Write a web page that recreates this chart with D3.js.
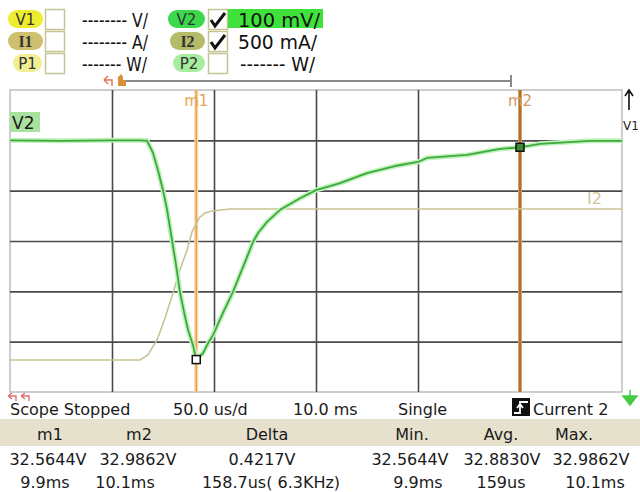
<!DOCTYPE html>
<html><head><meta charset="utf-8">
<script src="https://cdnjs.cloudflare.com/ajax/libs/d3/7.8.5/d3.min.js"></script>
<style>html,body{margin:0;padding:0;background:#fff;}svg{display:block;font-family:"DejaVu Sans",sans-serif;}</style>
</head><body><svg id="c" width="640" height="492"></svg>
<script>
// ---- data ----
const v2TimeUs = [0,25,50,63.7,67.2,70.1,72.5,75.0,77.0,79.4,81.4,83.3,85.3,87.3,89.7,91.3,94.6,97.1,99.5,104.4,109.3,115.2,119.1,121.6,126.0,132.4,142.2,150.0,161.8,175.0,188.7,200,204.4,224.0,240.2,250,259.8,284.3,300];
const v2Volts  = [33.000,32.999,33.000,33.000,32.999,32.975,32.941,32.901,32.862,32.802,32.752,32.699,32.659,32.623,32.593,32.5644,32.577,32.597,32.613,32.657,32.699,32.758,32.798,32.816,32.838,32.862,32.885,32.901,32.915,32.935,32.949,32.957,32.965,32.971,32.983,32.9862,32.993,32.999,32.999];
const i2TimeUs = [0,63.7,67.6,72.1,76.0,79.9,83.3,86.8,89.2,91.7,93.1,95.6,99.0,107.8,300];
const i2Amps   = [0.018,0.018,0.068,0.217,0.435,0.683,0.912,1.111,1.289,1.389,1.438,1.478,1.498,1.518,1.518];
const markerTimesUs = [91.3,250];
const markerNames = ["m1","m2"];
const markerVolts = [32.5644,32.9862];
const timeDomainUs = [0,300];
const timeDivUs = [50,100,150,200,250];
const v2Domain = [32.5,33.1];
const v2Divs = [32.6,32.7,32.8,32.9,33.0];
const i2Domain = [-0.3,2.7];
const legendRows = [
  {left:"V1", leftText:"-------- V/", right:"V2", rightText:"100 mV/", rightChecked:true},
  {left:"I1", leftText:"-------- A/", right:"I2", rightText:"500 mA/", rightChecked:true},
  {left:"P1", leftText:"------- W/", right:"P2", rightText:"------- W/", rightChecked:false}
];
const statusTexts = ["Scope Stopped","50.0 us/d","10.0 ms","Single","Current 2"];
const tableHeaders = ["m1","m2","Delta","Min.","Avg.","Max."];
const tableRow1 = ["32.5644V","32.9862V","0.4217V","32.5644V","32.8830V","32.9862V"];
const tableRow2 = ["9.9ms","10.1ms","158.7us( 6.3KHz)","9.9ms","159us","10.1ms"];

// ---- layout ----
const svg = d3.select("#c");
const P = {l:10, r:622, t:90, b:392};
const x = d3.scaleLinear().domain(timeDomainUs).range([P.l,P.r]);
const yV = d3.scaleLinear().domain(v2Domain).range([P.b,P.t]);
const yI = d3.scaleLinear().domain(i2Domain).range([P.b,P.t]);

// legend
const pillColL = ["#eeec2e","#cfc070","#f2ee96"];
const pillColR = ["#3ad84a","#b4bc6a","#a6ee9e"];
const rowY = [10,32,54];
legendRows.forEach((r,i)=>{
  const y0 = rowY[i];
  const g = svg.append("g");
  const pill = (px,w,col,label)=>{
    g.append("rect").attr("x",px).attr("y",y0).attr("width",w).attr("height",18).attr("rx",9).attr("fill",col);
    const serif = label[0]==="I";
    g.append("text").attr("x",px+w/2).attr("y",y0+15).attr("text-anchor","middle")
      .attr("font-size",serif?16:15).attr("font-weight",serif?"bold":"normal")
      .attr("font-family",serif?"'Liberation Serif',serif":"'DejaVu Sans',sans-serif")
      .attr("fill","#333").text(label);
  };
  pill(i===2?13:8, i===2?29:35, pillColL[i], r.left);
  pill(i===0?168:(i===1?170:173), i===0?37:(i===1?35:32), pillColR[i], r.right);
  // checkboxes
  g.append("rect").attr("x",45.5).attr("y",y0-0.5).attr("width",19).attr("height",20).attr("fill","#fff").attr("stroke","#c4c494").attr("stroke-width",1.5);
  g.append("rect").attr("x",208.5).attr("y",y0-0.5).attr("width",19).attr("height",20).attr("fill","#fff").attr("stroke","#c4c494").attr("stroke-width",1.5);
  if(r.rightChecked){
    g.append("path").attr("d",`M211,${y0+10} L215,${y0+16} L225,${y0+3}`).attr("fill","none").attr("stroke","#111").attr("stroke-width",3);
  }
  if(i===0){
    g.append("rect").attr("x",228).attr("y",y0-1).attr("width",95).attr("height",19).attr("fill","#3ee23a");
  }
  g.append("text").attr("x",82).attr("y",y0+17).attr("font-size",19).attr("textLength",i===2?65:66).attr("lengthAdjust","spacingAndGlyphs").attr("fill","#111").text(r.leftText);
  g.append("text").attr("x",i===2?240:238).attr("y",y0+17).attr("font-size",19).attr("textLength",i===2?75:(i===0?82:79)).attr("lengthAdjust","spacingAndGlyphs").attr("fill","#111").text(r.rightText);
});

// timebase bar
svg.append("line").attr("x1",125).attr("x2",511).attr("y1",81).attr("y2",81).attr("stroke","#8a8a8a").attr("stroke-width",2);
svg.append("line").attr("x1",511).attr("x2",511).attr("y1",75).attr("y2",87).attr("stroke","#8a8a8a").attr("stroke-width",2);
svg.append("path").attr("d","M104,80 L108,76 M104,80 L108,84 M104,80 L112,80 L112,86").attr("fill","none").attr("stroke","#e07a50").attr("stroke-width",1.5);
svg.append("path").attr("d","M118,86 L118,77 L121,74 L123,77 L123,80 L126,80 L126,86 Z").attr("fill","#d8903c");

// plot area
svg.append("rect").attr("x",P.l).attr("y",P.t).attr("width",P.r-P.l).attr("height",P.b-P.t).attr("fill","#fff").attr("stroke","#bdbdbd").attr("stroke-width",1.5);
const gx = svg.append("g").attr("transform",`translate(0,${P.b})`)
  .call(d3.axisBottom(x).tickValues(timeDivUs).tickSize(-(P.b-P.t)).tickFormat(""));
const gy = svg.append("g").attr("transform",`translate(${P.l},0)`)
  .call(d3.axisLeft(yV).tickValues(v2Divs).tickSize(-(P.r-P.l)).tickFormat(""));
[gx,gy].forEach(g=>{g.select(".domain").remove(); g.selectAll("line").attr("stroke","#4a4a4a").attr("stroke-width",1.6);});

// V2 label
svg.append("rect").attr("x",10).attr("y",112).attr("width",30).attr("height",20).attr("fill","#a8e29e");
svg.append("text").attr("x",12).attr("y",129).attr("font-size",17).attr("fill","#1a1a1a").text("V2");

// marker lines
const mCol = ["#eaa24a","#b0702e"];
const mHalo = ["#f8d8a8","#d8b080"];
markerTimesUs.forEach((t,i)=>{
  svg.append("line").attr("x1",x(t)).attr("x2",x(t)).attr("y1",P.t).attr("y2",P.b).attr("stroke",mHalo[i]).attr("stroke-width",4);
  svg.append("line").attr("x1",x(t)).attr("x2",x(t)).attr("y1",P.t).attr("y2",P.b).attr("stroke",mCol[i]).attr("stroke-width",i?2.5:1.5);
  svg.append("text").attr("x",x(t)).attr("y",106).attr("text-anchor","middle").attr("font-size",15).attr("fill",i?"#d49a5a":"#e8a650").text(markerNames[i]);
});

// I2 trace
const lineI = d3.line().x((d,i)=>x(i2TimeUs[i])).y(d=>yI(d));
svg.append("path").attr("d",lineI(i2Amps)).attr("fill","none").attr("stroke","#c9c394").attr("stroke-width",1.6);
svg.append("text").attr("x",587).attr("y",204).attr("font-size",16).attr("fill","#cfc79a").text("I2");

// V2 trace
const lineV = d3.line().x((d,i)=>x(v2TimeUs[i])).y(d=>yV(d));
svg.append("path").attr("d",lineV(v2Volts)).attr("fill","none").attr("stroke","#c2f0bc").attr("stroke-width",5).attr("stroke-linejoin","round");
svg.append("path").attr("d",lineV(v2Volts)).attr("fill","none").attr("stroke","#3aaa3a").attr("stroke-width",1.8).attr("stroke-linejoin","round");

// marker squares
markerTimesUs.forEach((t,i)=>{
  svg.append("rect").attr("x",x(t)-4).attr("y",yV(markerVolts[i])-4).attr("width",8).attr("height",8)
    .attr("fill",i?"#3a8a3a":"#fff").attr("stroke","#111").attr("stroke-width",1.5);
});

// right side arrow & label
svg.append("path").attr("d","M629,110 L629,91 M625,96 L629,90 L633,96").attr("fill","none").attr("stroke","#111").attr("stroke-width",1.6);
svg.append("text").attr("x",623).attr("y",130).attr("font-size",12).attr("fill","#222").text("V1");

// bottom arrows
svg.append("path").attr("d","M8,396 L12,393 M8,396 L12,399 M8,396 L16,396 L16,401 M21,396 L25,393 M21,396 L25,399 M21,396 L29,396 L29,401").attr("fill","none").attr("stroke","#e07070").attr("stroke-width",1.4);
svg.append("path").attr("d","M630,390 L630,397 M623,396 L637,396 L630,405 Z").attr("fill","#44cc44").attr("stroke","#44cc44").attr("stroke-width",1.5);

// status row
const statusX = [10,173,293,398,533];
statusTexts.forEach((s,i)=>{
  svg.append("text").attr("x",statusX[i]).attr("y",415).attr("font-size",16).attr("fill","#1a1a1a").text(s);
});
// trigger icon
svg.append("rect").attr("x",512).attr("y",398).attr("width",18).attr("height",18).attr("fill","#111");
svg.append("path").attr("d","M514,413 L520,413 L520,402 L528,402 M517,408 L520,404 L523,408").attr("fill","none").attr("stroke","#fff").attr("stroke-width",1.8);

// table
svg.append("rect").attr("x",0).attr("y",419).attr("width",640).attr("height",27).attr("fill","#e6e1cc");
const hdrC=[50,139,267,412,501,574];
const r1C=[48,138,262,410,502,591];
const r2C=[45,125,271,418,501,595];
const rowDraw=(arr,cs,yb)=>arr.forEach((s,i)=>{
  svg.append("text").attr("x",cs[i]).attr("y",yb).attr("text-anchor","middle").attr("font-size",16).attr("fill","#1a1a1a").text(s);
});
rowDraw(tableHeaders,hdrC,440);
rowDraw(tableRow1,r1C,465);
rowDraw(tableRow2,r2C,488);
</script></body></html>
